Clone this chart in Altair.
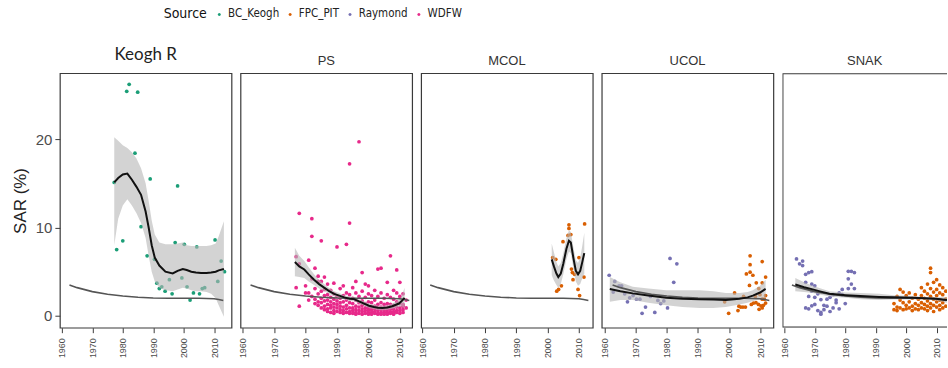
import altair as alt
import pandas as pd

SOURCES = ["BC_Keogh", "FPC_PIT", "Raymond", "WDFW"]
COLORS = ["#1b9e77", "#d95f02", "#7570b3", "#e7298a"]
PANELS = ["Keogh R", "PS", "MCOL", "UCOL", "SNAK"]

# ---- shared (grey) trend line ----
global_year = [1962.5, 1965, 1970, 1975, 1980, 1985, 1990, 1995, 2000, 2005, 2010, 2011.5, 2013]
global_sar = [3.5, 3.2, 2.75, 2.45, 2.25, 2.12, 2.03, 2.0, 2.0, 2.0, 1.95, 1.85, 1.75]

# ---- Keogh R (BC_Keogh) ----
keogh_year = [1977.2, 1978, 1980, 1981.3, 1982.1, 1984.9, 1984, 1989, 1986, 1988, 1990.4, 1991.2,
              1992, 1992.8, 1993.9, 1995.3, 1996.2, 1997.2, 1998, 1999.4, 2000.2, 2001.1, 2002.1,
              2003.2, 2004.3, 2005.2, 2006.1, 2006.9, 2010.3, 2011.2, 2012.3, 2013.4]
keogh_sar = [15.1, 7.5, 8.5, 25.4, 26.2, 25.3, 18.4, 15.5, 10.1, 6.8, 6.4, 3.7,
             3.1, 3.3, 2.8, 4.1, 2.5, 8.3, 14.7, 4.3, 8.1, 3.3, 1.8,
             2.6, 7.8, 2.5, 3.1, 3.2, 8.6, 3.9, 6.2, 5.0]
keogh_fit_year = [1977.2, 1978.5, 1980, 1981.5, 1983, 1984.5, 1986, 1987.5, 1988.5, 1989.5, 1990.5,
                  1992, 1994, 1996.4, 1998, 1999.7, 2001, 2002.5, 2004, 2005.7, 2007.5, 2009,
                  2010.5, 2011.5, 2013.2]
keogh_fit = [15.1, 15.6, 16.0, 16.1, 15.4, 14.6, 13.7, 11.8, 10.0, 8.0, 6.6,
             5.7, 5.0, 4.8, 5.1, 5.3, 5.2, 5.0, 4.9, 4.85, 4.85, 4.9,
             5.0, 5.15, 5.3]
keogh_lo = [8.0, 11.0, 12.5, 13.2, 12.5, 11.6, 10.5, 8.8, 6.8, 5.0, 3.9,
            3.2, 2.9, 2.8, 3.0, 3.2, 3.1, 2.9, 2.8, 2.8, 2.7, 2.5,
            2.0, 1.2, -0.1]
keogh_hi = [20.2, 19.8, 19.3, 19.0, 18.5, 17.8, 16.7, 15.0, 13.0, 10.8, 9.2,
            8.3, 8.1, 8.1, 8.2, 8.3, 8.0, 7.9, 7.9, 7.9, 7.9, 8.0,
            8.2, 9.0, 10.7]

# ---- PS (WDFW) ----
ps_by_year = {
    1977: [6.7, 3.2], 1978: [11.6, 1.1, 5.9], 1980: [2.6, 3.4], 1981: [6.3, 2.6, 1.8],
    1982: [11.0, 9.0, 4.2, 2.2], 1983: [5.4, 3.1, 1.9, 1.4], 1984: [4.5, 3.9, 2.5, 1.6, 1.2],
    1985: [8.5, 3.9, 2.8, 2.0, 1.5, 0.9], 1986: [4.4, 3.0, 2.3, 1.7, 1.1, 0.7],
    1987: [3.6, 2.4, 1.8, 1.3, 0.8, 0.5], 1988: [2.9, 2.1, 1.6, 1.2, 0.9, 0.4],
    1989: [3.7, 2.5, 1.9, 1.4, 1.0, 0.6, 0.3], 1990: [7.8, 2.2, 1.7, 1.3, 0.9, 0.5],
    1991: [3.1, 2.0, 1.5, 1.1, 0.7, 0.4], 1992: [3.4, 2.3, 1.6, 1.0, 0.6, 0.3],
    1993: [8.1, 2.6, 1.8, 1.2, 0.8, 0.4], 1994: [17.2, 10.5, 2.4, 1.5, 0.9, 0.5, 0.3],
    1995: [3.2, 2.0, 1.4, 0.9, 0.6, 0.3], 1996: [3.9, 2.6, 1.8, 1.1, 0.7, 0.4, 0.2],
    1997: [19.7, 2.2, 1.5, 1.0, 0.6, 0.3], 1998: [4.9, 2.8, 1.7, 1.2, 0.8, 0.5, 0.2],
    1999: [3.6, 2.1, 1.4, 0.9, 0.6, 0.3], 2000: [3.4, 2.5, 1.6, 1.0, 0.7, 0.4, 0.2],
    2001: [2.3, 1.5, 1.0, 0.7, 0.4, 0.2], 2002: [2.9, 1.8, 1.1, 0.8, 0.5, 0.3],
    2003: [5.3, 2.2, 1.3, 0.9, 0.6, 0.3, 0.2], 2004: [5.4, 2.6, 1.5, 1.0, 0.7, 0.4, 0.2],
    2005: [2.0, 1.3, 0.9, 0.6, 0.4, 0.2], 2006: [3.8, 2.4, 1.4, 1.0, 0.7, 0.4, 0.2],
    2007: [6.8, 2.1, 1.3, 0.8, 0.5, 0.3], 2008: [2.9, 1.9, 1.2, 0.8, 0.5, 0.3, 0.2],
    2009: [5.2, 2.6, 1.6, 1.0, 0.6, 0.4], 2010: [3.8, 2.2, 1.4, 0.9, 0.6, 0.3],
    2011: [1.3, 2.5, 1.1, 0.7, 0.4], 2012: [1.8, 0.9],
}
ps_fit_year = [1976.6, 1978, 1979.6, 1981, 1982.7, 1984.3, 1985.9, 1987.5, 1989.1, 1990.7, 1992.3,
               1994, 1995.4, 1997, 1998.6, 2000.2, 2001.8, 2003, 2004.4, 2006, 2007.6, 2009.7,
               2010.5, 2011.5]
ps_fit = [6.1, 5.6, 5.25, 4.7, 4.1, 3.6, 3.2, 2.8, 2.5, 2.3, 2.1,
          1.95, 1.9, 1.65, 1.4, 1.15, 1.0, 0.93, 0.9, 0.95, 1.1, 1.4, 1.65, 2.05]
ps_lo = [4.5, 4.4, 4.3, 3.9, 3.5, 3.1, 2.8, 2.5, 2.2, 2.0, 1.85,
         1.7, 1.65, 1.4, 1.15, 0.9, 0.75, 0.68, 0.65, 0.68, 0.8, 1.0, 1.1, 0.9]
ps_hi = [7.7, 6.8, 6.2, 5.5, 4.7, 4.1, 3.6, 3.15, 2.8, 2.6, 2.35,
         2.2, 2.15, 1.9, 1.65, 1.4, 1.25, 1.18, 1.15, 1.22, 1.4, 1.8, 2.2, 3.2]

# ---- MCOL (FPC_PIT) ----
mcol_year = [2006.8, 2006.8, 2011.8, 2004.9, 2006.5, 2007.4, 2001.6, 2002.6, 2010.0, 2007.9,
             2008.6, 2011.6, 2008.1, 2004.4, 2003.5, 2002.9, 2009.7, 2010.2, 2007.6]
mcol_sar = [10.3, 9.9, 10.4, 8.4, 9.1, 9.2, 6.6, 6.4, 6.6, 4.9,
            4.7, 4.4, 4.1, 3.4, 3.0, 2.8, 3.0, 2.3, 5.3]
mcol_fit_year = [2001.3, 2002, 2002.8, 2003.4, 2004.2, 2005, 2006, 2006.8, 2007.4, 2008.2,
                 2009, 2009.7, 2010.4, 2011, 2011.7]
mcol_fit = [6.4, 5.6, 4.8, 4.4, 4.8, 5.9, 7.6, 8.5, 8.3, 6.6, 5.1, 4.7, 5.1, 6.0, 7.1]
mcol_lo = [4.6, 4.0, 3.5, 3.2, 3.6, 4.7, 6.4, 7.3, 7.1, 5.4, 3.9, 3.4, 3.6, 4.2, 4.8]
mcol_hi = [8.2, 7.2, 6.1, 5.6, 6.0, 7.1, 8.8, 9.7, 9.5, 7.8, 6.3, 6.0, 6.6, 7.8, 9.4]

# ---- UCOL ----
ucol_ray_year = [1961.4, 1963.2, 1962.7, 1964.6, 1965.4, 1966.4, 1967.3, 1968.0, 1969.1, 1970.2,
                 1971.3, 1972.0, 1973.1, 1974.7, 1976.1, 1977.1, 1978.0, 1979.0, 1980.2, 1981.0,
                 1983.2, 1982.2]
ucol_ray_sar = [4.6, 3.9, 2.7, 3.4, 3.4, 2.5, 1.6, 2.05, 2.3, 1.9,
                1.9, 0.3, 1.0, 2.2, 0.4, 1.75, 1.4, 1.7, 0.9, 6.5,
                5.9, 3.8]
ucol_pit_year = [2006.8, 2010.7, 2006.8, 2005.6, 2006.8, 2007.7, 2011.8, 2008.8, 2010.7, 2006.6,
                 2009.6, 2001.8, 1998.6, 2004.7, 2011.4, 2010.7, 2003.2, 2003.8, 2004.5, 2005.3,
                 1999.9, 2002.9, 2007.2, 2007.9, 2008.7, 2009.5, 2010.3, 2011.1, 2011.8, 2009.7,
                 2010.7, 2008.5, 2010.0, 2011.8]
ucol_pit_sar = [6.8, 6.15, 5.8, 4.75, 4.95, 4.6, 4.4, 3.75, 3.75, 3.45,
                3.1, 2.6, 1.6, 2.2, 1.9, 1.9, 1.1, 1.0, 1.0, 1.0,
                0.3, 0.6, 1.3, 1.45, 1.5, 1.3, 1.15, 1.2, 1.45, 0.75,
                0.9, 2.2, 2.4, 2.3]
ucol_fit_year = [1961.6, 1965, 1969, 1974, 1979.8, 1985, 1990.5, 1995, 1999, 2003.4, 2006, 2007.7,
                 2010, 2011.8]
ucol_fit = [3.05, 2.8, 2.55, 2.3, 2.05, 1.95, 1.9, 1.85, 1.8, 1.95, 2.1, 2.3, 2.65, 3.05]
ucol_lo = [1.6, 1.8, 1.8, 1.5, 1.2, 1.0, 0.9, 0.9, 1.0, 1.3, 1.5, 1.7, 1.9, 2.0]
ucol_hi = [4.4, 3.8, 3.3, 3.1, 2.9, 2.9, 2.9, 2.8, 2.6, 2.6, 2.7, 2.9, 3.4, 4.1]

# ---- SNAK ----
snak_ray_by_year = {
    1964: [6.45], 1965: [5.9], 1966: [6.2, 5.7], 1967: [4.7, 3.8, 0.9], 1968: [4.9, 2.2, 0.8],
    1969: [5.0, 3.6, 2.8, 1.15], 1970: [3.4, 2.1, 1.3], 1971: [2.5, 0.6], 1972: [1.85, 0.4, 0.2],
    1973: [0.7, 1.2], 1974: [1.1, 1.9], 1975: [2.1, 0.5], 1976: [2.4, 0.9], 1977: [1.8, 1.5],
    1978: [2.6, 0.8], 1979: [3.0, 2.4], 1980: [1.4], 1981: [5.05, 4.2, 3.1], 1982: [5.05, 3.6],
    1983: [4.9, 3.1],
}
snak_pit_by_year = {
    1996: [0.7, 1.4], 1997: [2.2, 1.0, 0.6], 1998: [3.0, 1.8, 0.9], 1999: [2.7, 1.5, 0.7],
    2000: [2.3, 1.2, 0.8], 2001: [2.6, 1.6, 0.9], 2002: [2.0, 1.1, 0.6], 2003: [2.4, 1.4, 0.8],
    2004: [1.9, 1.2, 0.7], 2005: [3.2, 2.3, 1.5, 0.9], 2006: [2.8, 2.0, 1.3, 0.8],
    2007: [3.6, 2.5, 1.7, 1.1, 0.6], 2008: [5.4, 4.9, 3.1, 2.2, 1.4, 0.9],
    2009: [3.8, 2.7, 1.9, 1.2, 0.5], 2010: [4.1, 3.0, 2.3, 1.6, 1.0],
    2011: [3.5, 2.6, 1.8, 1.2, 0.7], 2012: [3.2, 2.4, 1.5, 0.9], 2013: [2.8, 1.9, 1.1],
}
snak_fit_year = [1963.6, 1966.5, 1969.3, 1972, 1974.8, 1980.2, 1985, 1991.1, 1996, 2002.1, 2006,
                 2009.7, 2013.4]
snak_fit = [3.55, 3.25, 3.0, 2.75, 2.5, 2.35, 2.25, 2.15, 2.1, 2.05, 2.0, 1.95, 1.8]
snak_lo = [2.8, 2.7, 2.6, 2.4, 2.2, 2.05, 1.9, 1.8, 1.85, 1.85, 1.85, 1.75, 1.5]
snak_hi = [4.3, 3.8, 3.4, 3.1, 2.8, 2.65, 2.6, 2.5, 2.35, 2.25, 2.15, 2.15, 2.1]

# ---------------- build tables ----------------
def flatten(d):
    ys, vs = [], []
    for k, vals in d.items():
        for v in vals:
            ys.append(k)
            vs.append(v)
    return ys, vs

def pts_df(pairs):
    rows = []
    for src, yrs, vals in pairs:
        rows += [{"year": a, "sar": b, "Source": src} for a, b in zip(yrs, vals)]
    return pd.DataFrame(rows)

def fit_df(yrs, f, lo, hi):
    return pd.DataFrame({"year": yrs, "fit": f, "lo": lo, "hi": hi})

ps_y, ps_v = flatten(ps_by_year)
sr_y, sr_v = flatten(snak_ray_by_year)
sp_y, sp_v = flatten(snak_pit_by_year)

panel_pts = {
    "Keogh R": pts_df([("BC_Keogh", keogh_year, keogh_sar)]),
    "PS": pts_df([("WDFW", ps_y, ps_v)]),
    "MCOL": pts_df([("FPC_PIT", mcol_year, mcol_sar)]),
    "UCOL": pts_df([("Raymond", ucol_ray_year, ucol_ray_sar), ("FPC_PIT", ucol_pit_year, ucol_pit_sar)]),
    "SNAK": pts_df([("Raymond", sr_y, sr_v), ("FPC_PIT", sp_y, sp_v)]),
}
panel_fit = {
    "Keogh R": fit_df(keogh_fit_year, keogh_fit, keogh_lo, keogh_hi),
    "PS": fit_df(ps_fit_year, ps_fit, ps_lo, ps_hi),
    "MCOL": fit_df(mcol_fit_year, mcol_fit, mcol_lo, mcol_hi),
    "UCOL": fit_df(ucol_fit_year, ucol_fit, ucol_lo, ucol_hi),
    "SNAK": fit_df(snak_fit_year, snak_fit, snak_lo, snak_hi),
}
global_df = pd.DataFrame({"year": global_year, "sar": global_sar})

x_domains = {
    "Keogh R": [1959.35, 2015.7],
    "PS": [1959.3, 2013.9],
    "MCOL": [1959.6, 2014.4],
    "UCOL": [1959.0, 2014.3],
    "SNAK": [1959.35, 2013.4],
}
widths = {"Keogh R": 172, "PS": 172, "MCOL": 172, "UCOL": 172, "SNAK": 165}
Y_DOMAIN = [-1.33, 27.45]
FRAME = "#3a3a3a"
NARROW = "Liberation Sans Narrow, DejaVu Sans Condensed, Liberation Sans"

x_axis = alt.Axis(values=[1960, 1970, 1980, 1990, 2000, 2010], format="d", labelAngle=270,
                  labelAlign="right", labelBaseline="middle", labelFontSize=9,
                  labelFont="Liberation Sans", labelColor="#4d4d4d", labelPadding=5,
                  tickSize=5, tickColor=FRAME, domain=False, grid=False, title=None)
y_axis = alt.Axis(values=[0, 10, 20], labelFontSize=15, labelFont="Liberation Sans",
                  labelColor="#4d4d4d", labelPadding=3, tickSize=5, tickColor=FRAME,
                  domain=False, grid=False, title="SAR (%)", titleFontSize=17,
                  titleFont="Liberation Sans", titleFontWeight="normal", titleColor="#222222",
                  titlePadding=6)

legend = alt.Legend(orient="none", legendX=104, legendY=-65, direction="horizontal",
                    title="Source", titleOrient="left", titleFontSize=14, titleFontWeight="normal",
                    titleFont=NARROW, titleColor="#111111", titlePadding=6,
                    labelFont=NARROW, labelFontSize=11.5, labelColor="#222222", labelOffset=3,
                    symbolType="circle", symbolSize=9, columnPadding=5)


def make_panel(name, first, last):
    xs = alt.Scale(domain=x_domains[name], nice=False, zero=False)
    ys = alt.Scale(domain=Y_DOMAIN, nice=False, zero=False)
    yax = y_axis if first else None
    X = alt.X("year:Q", scale=xs, axis=x_axis)

    pts = alt.Chart(panel_pts[name]).mark_circle(size=14, opacity=1, clip=True).encode(
        x=X,
        y=alt.Y("sar:Q", scale=ys, axis=yax),
        color=alt.Color("Source:N", scale=alt.Scale(domain=SOURCES, range=COLORS), legend=legend),
    )
    band = alt.Chart(panel_fit[name]).mark_area(color="#b5b5b5", opacity=0.6, clip=True).encode(
        x=X, y=alt.Y("lo:Q", scale=ys, axis=yax), y2="hi:Q"
    )
    glob = alt.Chart(global_df).mark_line(color="#555555", strokeWidth=1.6, clip=True).encode(
        x=X, y=alt.Y("sar:Q", scale=ys, axis=yax)
    )
    fit = alt.Chart(panel_fit[name]).mark_line(color="#111111", strokeWidth=2, clip=True).encode(
        x=X, y=alt.Y("fit:Q", scale=ys, axis=yax)
    )
    layers = [pts, band, glob, fit]
    if first:
        title = alt.TitleParams(name, font="Lato", fontSize=17, fontWeight="normal",
                                color="#222222", offset=9)
    else:
        title = alt.TitleParams(name, font="Liberation Sans", fontSize=13, fontWeight="normal",
                                color="#333333", offset=5)
    if last:
        # the reference crops this panel at the right edge: frame without a right side
        frame = alt.Chart(pd.DataFrame({"k": [0]})).mark_rect(
            filled=False, stroke=FRAME, strokeWidth=1.2, clip=True
        ).encode(x=alt.value(0.5), x2=alt.value(widths[name] + 20),
                 y=alt.value(0.5), y2=alt.value(254.5))
        layers.append(frame)
        return alt.layer(*layers).properties(width=widths[name], height=255, title=title,
                                             view=alt.ViewBackground(stroke="transparent"))
    return alt.layer(*layers).properties(width=widths[name], height=255, title=title)


panels = [make_panel(n, i == 0, i == len(PANELS) - 1) for i, n in enumerate(PANELS)]
chart = alt.hconcat(*panels, spacing=9, bounds="flush").properties(
    padding={"left": 10, "top": 8, "right": 0, "bottom": 0},
    background="white",
).configure_view(stroke=FRAME, strokeWidth=1.2)

chart.save("out.html", embed_options={"renderer": "svg", "actions": False})
